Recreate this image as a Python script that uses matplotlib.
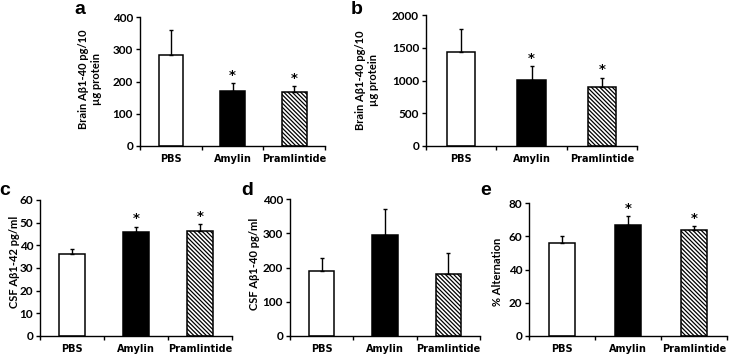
import matplotlib
matplotlib.use("Agg")
import matplotlib.pyplot as plt
import numpy as np

plt.rcParams['font.family'] = ['Lato', 'DejaVu Sans']
plt.rcParams['hatch.linewidth'] = 0.9

groups = ["PBS", "Amylin", "Pramlintide"]

a_vals = [283, 170, 166]
a_err = [77, 26, 20]
a_sig = [False, True, True]

b_vals = [1440, 1010, 900]
b_err = [350, 210, 145]
b_sig = [False, True, True]

c_vals = [36, 46, 46.5]
c_err = [2.5, 2.3, 2.8]
c_sig = [False, True, True]

d_vals = [190, 295, 182]
d_err = [38, 77, 59]
d_sig = [False, False, False]

e_vals = [56, 67, 64]
e_err = [4, 5, 2]
e_sig = [False, True, True]

W, H = 729, 355
fig = plt.figure(figsize=(W / 100, H / 100), dpi=100)

def px_axes(left, right, top, bottom):
    return fig.add_axes([left / W, 1 - bottom / H, (right - left) / W, (bottom - top) / H])

panels = [
    dict(box=(140, 325, 17, 146), vals=a_vals, err=a_err, sig=a_sig, ymax=400, step=100,
         letter="a", lpos=(80, 9), ylabel="Brain A\u03b21-40 pg/10\n\u00b5g protein", ypos=(90, 79)),
    dict(box=(426, 637, 15, 146), vals=b_vals, err=b_err, sig=b_sig, ymax=2000, step=500,
         letter="b", lpos=(357, 9), ylabel="Brain A\u03b21-40 pg/10\n\u00b5g protein", ypos=(367, 80)),
    dict(box=(40, 232, 200, 336), vals=c_vals, err=c_err, sig=c_sig, ymax=60, step=10,
         letter="c", lpos=(5, 191), ylabel="CSF A\u03b21-42 pg/ml", ypos=(15, 262)),
    dict(box=(290, 480, 199, 336), vals=d_vals, err=d_err, sig=d_sig, ymax=400, step=100,
         letter="d", lpos=(247, 191), ylabel="CSF A\u03b21-40 pg/ml", ypos=(255, 264)),
    dict(box=(529, 727, 203, 336), vals=e_vals, err=e_err, sig=e_sig, ymax=80, step=20,
         letter="e", lpos=(486, 191), ylabel="% Alternation", ypos=(497, 272)),
]

faces = ["white", "black", "white"]
hatches = [None, None, "\\\\\\\\\\\\\\\\"]

for p in panels:
    ax = px_axes(*p["box"])
    x = np.arange(len(groups))
    for i in range(len(groups)):
        ax.bar(x[i], p["vals"][i], width=0.4, color=faces[i], edgecolor="black",
               linewidth=1.1, hatch=hatches[i], zorder=2)
    ax.errorbar(x, p["vals"], yerr=[np.zeros(3), p["err"]], fmt="none", ecolor="black",
                elinewidth=1.0, capsize=1.5, capthick=1.0, zorder=3)
    for i in range(len(groups)):
        if p["sig"][i]:
            top = p["vals"][i] + p["err"][i]
            ax.text(x[i], top + p["ymax"] * 0.01, "*", ha="center", va="bottom",
                    fontsize=9.5, fontweight="bold", family="DejaVu Sans")
    ax.set_xlim(-0.5, 2.5)
    ax.set_ylim(0, p["ymax"])
    ax.set_yticks(np.arange(0, p["ymax"] + p["step"] / 2, p["step"]))
    ax.set_xticks(x)
    ax.set_xticklabels(groups, fontsize=7, fontweight="bold", family="DejaVu Sans")
    ax.set_xticks([-0.5, 0.5, 1.5, 2.5], minor=True)
    ax.tick_params(axis="x", which="major", length=0, pad=6)
    ax.tick_params(axis="x", which="minor", length=3, width=1)
    ax.tick_params(axis="y", length=3, width=1, labelsize=8.5, pad=2)
    for lab in ax.get_yticklabels():
        lab.set_fontweight("bold")
    for s in ["top", "right"]:
        ax.spines[s].set_visible(False)
    for s in ["left", "bottom"]:
        ax.spines[s].set_linewidth(1.0)
    fig.text(p["lpos"][0] / W, 1 - p["lpos"][1] / H, p["letter"], ha="center", va="center",
             fontsize=14, fontweight="bold", family="Liberation Sans")
    fig.text(p["ypos"][0] / W, 1 - p["ypos"][1] / H, p["ylabel"], ha="center", va="center",
             rotation=90, fontsize=8, fontweight="bold", linespacing=1.15)

fig.savefig("out.png", dpi=100, facecolor="white")
